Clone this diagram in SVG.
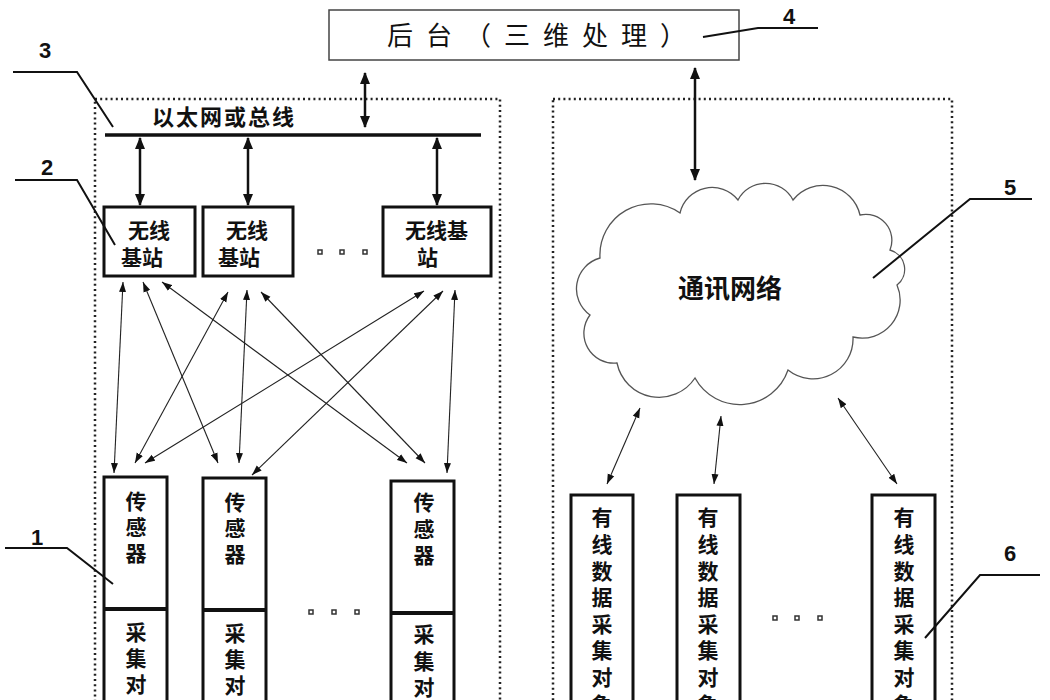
<svg xmlns="http://www.w3.org/2000/svg" width="1050" height="700" viewBox="0 0 1050 700">
<defs>
<style>
.cj{font-family:"Noto Sans CJK SC","Noto Sans",sans-serif;fill:#111}
.b{font-weight:700}
.v{writing-mode:vertical-rl;font-size:21px;font-weight:700}
.num{font-family:"Liberation Sans",Arial,sans-serif;font-weight:700;font-size:22px;fill:#111}
.box{fill:#fff;stroke:#111;stroke-width:3}
.dot{fill:none;stroke:#222;stroke-width:2.5;stroke-dasharray:2 3.2}
.lead{fill:none;stroke:#111;stroke-width:2}
.thick{stroke:#111;stroke-width:2.5;fill:none;marker-start:url(#ah);marker-end:url(#ah)}
.thin{stroke:#222;stroke-width:1.1;fill:none;marker-start:url(#as);marker-end:url(#as)}
.sq{fill:#fff;stroke:#333;stroke-width:1.5}
</style>
<marker id="ah" markerUnits="userSpaceOnUse" markerWidth="12" markerHeight="12" refX="11" refY="5" orient="auto-start-reverse" viewBox="0 0 12 10"><path d="M0,0 L12,5 L0,10 z" fill="#111"/></marker>
<marker id="as" markerUnits="userSpaceOnUse" markerWidth="10" markerHeight="8" refX="10" refY="3.5" orient="auto-start-reverse" viewBox="0 0 10 7"><path d="M0,0 L10,3.5 L0,7 z" fill="#111"/></marker>
</defs>
<rect width="1050" height="700" fill="#fff"/>

<!-- dotted containers -->
<rect class="dot" x="95" y="99" width="405" height="640"/>
<rect class="dot" x="553" y="99" width="399" height="640"/>

<g id="backend">
<rect x="329" y="10" width="410" height="50" fill="#fff" stroke="#444" stroke-width="1.5"/>
<text class="cj" x="387" y="45" font-size="26" letter-spacing="13">后台（三维处理）</text>
</g>

<g id="bus">
<line x1="105" y1="135" x2="481" y2="135" stroke="#111" stroke-width="3.5"/>
<text class="cj b" x="152" y="125" font-size="22" letter-spacing="2">以太网或总线</text>
</g>

<g id="bs1"><rect class="box" x="104" y="207" width="91" height="69"/>
<text class="cj b" x="128" y="238" font-size="21">无线</text><text class="cj b" x="121" y="265" font-size="21">基站</text></g>
<g id="bs2"><rect class="box" x="203" y="207" width="90" height="69"/>
<text class="cj b" x="226" y="238" font-size="21">无线</text><text class="cj b" x="218" y="265" font-size="21">基站</text></g>
<g id="bs3"><rect class="box" x="383" y="207" width="108" height="69"/>
<text class="cj b" x="405" y="238" font-size="21">无线基</text><text class="cj b" x="417" y="265" font-size="21">站</text></g>
<g id="bsdots"><rect class="sq" x="318" y="250" width="4" height="4"/><rect class="sq" x="340" y="250" width="4" height="4"/><rect class="sq" x="363" y="250" width="4" height="4"/></g>

<g id="s1"><rect class="box" x="104" y="477" width="63" height="260"/><line x1="104" y1="609" x2="167" y2="609" stroke="#111" stroke-width="4"/>
<text class="cj v" x="136" y="491" letter-spacing="5">传感器</text>
<text class="cj v" x="136" y="622" letter-spacing="5">采集对</text></g>
<g id="s2"><rect class="box" x="203" y="478" width="63" height="260"/><line x1="203" y1="610" x2="266" y2="610" stroke="#111" stroke-width="4"/>
<text class="cj v" x="235" y="492" letter-spacing="5">传感器</text>
<text class="cj v" x="235" y="623" letter-spacing="5">采集对</text></g>
<g id="s3"><rect class="box" x="391" y="481" width="63" height="260"/><line x1="391" y1="613" x2="454" y2="613" stroke="#111" stroke-width="4"/>
<text class="cj v" x="424" y="492" letter-spacing="5.5">传感器</text>
<text class="cj v" x="424" y="624" letter-spacing="5.5">采集对</text></g>
<g id="sdots"><rect class="sq" x="309" y="610" width="4" height="4"/><rect class="sq" x="332" y="610" width="4" height="4"/><rect class="sq" x="355" y="610" width="4" height="4"/></g>

<g id="cloud">
<path d="M600,258 A51,51 0 0,1 680,213 A33,33 0 0,1 738,200 A31,31 0 0,1 793,200 A38,38 0 0,1 860,215 A26,26 0 0,1 890,250 A20,20 0 0,1 897,285 A38,38 0 0,1 853,337 A40,40 0 0,1 788,370 A51,51 0 0,1 695,378 A43,43 0 0,1 617,363 A30,30 0 0,1 590,315 A32,32 0 0,1 600,258 Z" fill="#fff" stroke="#555" stroke-width="1.3"/>
<text class="cj b" x="678" y="298" font-size="26">通讯网络</text>
</g>

<g id="w1"><rect class="box" x="571" y="495" width="62" height="240"/>
<text class="cj v" x="602" y="507" letter-spacing="5.6">有线数据采集对象</text></g>
<g id="w2"><rect class="box" x="677" y="495" width="63" height="240"/>
<text class="cj v" x="708" y="507" letter-spacing="5.6">有线数据采集对象</text></g>
<g id="w3"><rect class="box" x="872" y="495" width="63" height="240"/>
<text class="cj v" x="904" y="507" letter-spacing="5.6">有线数据采集对象</text></g>
<g id="wdots"><rect class="sq" x="773" y="616" width="4" height="4"/><rect class="sq" x="795" y="616" width="4" height="4"/><rect class="sq" x="818" y="616" width="4" height="4"/></g>

<g id="connectors">
<line class="thick" x1="365" y1="73" x2="365" y2="127"/>
<line class="thick" x1="695" y1="68" x2="695" y2="180"/>
<line class="thick" x1="140" y1="138" x2="140" y2="205"/>
<line class="thick" x1="248" y1="138" x2="248" y2="205"/>
<line class="thick" x1="437" y1="138" x2="437" y2="205"/>
<line class="thin" x1="123" y1="282" x2="114" y2="473"/>
<line class="thin" x1="143" y1="282" x2="218" y2="463"/>
<line class="thin" x1="162" y1="282" x2="407" y2="463"/>
<line class="thin" x1="228" y1="292" x2="135" y2="463"/>
<line class="thin" x1="247" y1="290" x2="239" y2="463"/>
<line class="thin" x1="261" y1="292" x2="425" y2="463"/>
<line class="thin" x1="424" y1="291" x2="145" y2="463"/>
<line class="thin" x1="443" y1="291" x2="252" y2="475"/>
<line class="thin" x1="455" y1="290" x2="447" y2="473"/>
<line class="thin" x1="640" y1="408" x2="607" y2="484"/>
<line class="thin" x1="721" y1="416" x2="714" y2="484"/>
<line class="thin" x1="838" y1="398" x2="897" y2="484"/>
</g>

<g id="labels">
<text class="num" x="45" y="58" text-anchor="middle">3</text>
<polyline class="lead" points="13,72 77,72 113,127"/>
<text class="num" x="47" y="175" text-anchor="middle">2</text>
<polyline class="lead" points="15,180 77,180 115,245"/>
<text class="num" x="789" y="24" text-anchor="middle">4</text>
<polyline class="lead" points="703,37 758,28 818,28"/>
<text class="num" x="1010" y="195" text-anchor="middle">5</text>
<polyline class="lead" points="1032,199 970,199 873,278"/>
<text class="num" x="37" y="545" text-anchor="middle">1</text>
<polyline class="lead" points="5,548 67,548 113,584"/>
<text class="num" x="1010" y="561" text-anchor="middle">6</text>
<polyline class="lead" points="1040,575 980,575 925,638"/>
</g>
</svg>
